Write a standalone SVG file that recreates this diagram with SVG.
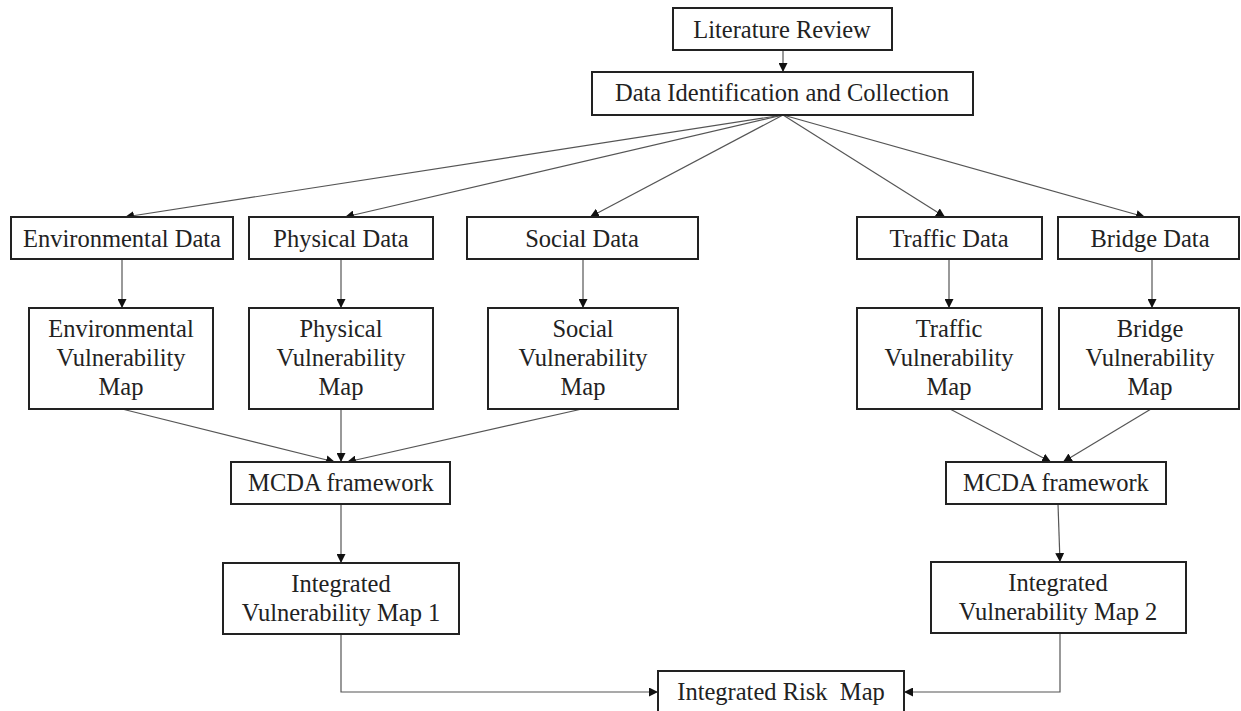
<svg xmlns="http://www.w3.org/2000/svg" width="1241" height="711" viewBox="0 0 1241 711">
<defs>
<marker id="arr" viewBox="0 0 10 10" refX="10" refY="5" markerWidth="9" markerHeight="9" markerUnits="userSpaceOnUse" orient="auto">
<path d="M0,0 L10,5 L0,10 z" fill="#111"/>
</marker>
<style>
.box{fill:#fff;stroke:#222;stroke-width:2}
.lbl{font-family:"Liberation Serif","Times New Roman",serif;font-size:24.5px;fill:#222;text-anchor:middle}
.con{fill:none;stroke:#555;stroke-width:1.2;marker-end:url(#arr)}
</style>
</defs>
<rect width="1241" height="711" fill="#fff"/>
<g id="connectors">
<line class="con" x1="783" y1="50" x2="783" y2="72"/>
<line class="con" x1="783" y1="115" x2="125" y2="217"/>
<line class="con" x1="783" y1="115" x2="345" y2="217"/>
<line class="con" x1="783" y1="115" x2="590" y2="217"/>
<line class="con" x1="783" y1="115" x2="945" y2="217"/>
<line class="con" x1="783" y1="115" x2="1145" y2="217"/>
<line class="con" x1="122" y1="259" x2="122" y2="308"/>
<line class="con" x1="341" y1="259" x2="341" y2="308"/>
<line class="con" x1="583" y1="259" x2="583" y2="308"/>
<line class="con" x1="949" y1="259" x2="949" y2="308"/>
<line class="con" x1="1152" y1="259" x2="1152" y2="308"/>
<line class="con" x1="122" y1="409" x2="335" y2="462"/>
<line class="con" x1="341" y1="409" x2="341" y2="462"/>
<line class="con" x1="582" y1="409" x2="347" y2="462"/>
<line class="con" x1="950" y1="409" x2="1051" y2="462"/>
<line class="con" x1="1151" y1="409" x2="1063" y2="462"/>
<line class="con" x1="341" y1="504" x2="341" y2="563"/>
<line class="con" x1="1058" y1="504" x2="1060" y2="562"/>
<polyline class="con" points="341,634 341,692 658,692"/>
<polyline class="con" points="1060,633 1060,692 904,692"/>
</g>
<g id="lit-review"><rect class="box" x="673" y="8" width="219" height="42"/><text class="lbl" x="782" y="38">Literature Review</text></g>
<g id="data-id"><rect class="box" x="592" y="72" width="381" height="43"/><text class="lbl" x="782" y="101">Data Identification and Collection</text></g>
<g id="env-data"><rect class="box" x="11" y="217" width="222" height="42"/><text class="lbl" x="122" y="247">Environmental Data</text></g>
<g id="phys-data"><rect class="box" x="249" y="217" width="184" height="42"/><text class="lbl" x="341" y="247">Physical Data</text></g>
<g id="soc-data"><rect class="box" x="467" y="217" width="231" height="42"/><text class="lbl" x="582" y="247">Social Data</text></g>
<g id="traf-data"><rect class="box" x="857" y="217" width="185" height="42"/><text class="lbl" x="949" y="247">Traffic Data</text></g>
<g id="bridge-data"><rect class="box" x="1058" y="217" width="181" height="42"/><text class="lbl" x="1150" y="247">Bridge Data</text></g>
<g id="env-vuln"><rect class="box" x="29" y="308" width="184" height="101"/><text class="lbl" x="121" y="337">Environmental</text><text class="lbl" x="121" y="366">Vulnerability</text><text class="lbl" x="121" y="395">Map</text></g>
<g id="phys-vuln"><rect class="box" x="249" y="308" width="184" height="101"/><text class="lbl" x="341" y="337">Physical</text><text class="lbl" x="341" y="366">Vulnerability</text><text class="lbl" x="341" y="395">Map</text></g>
<g id="soc-vuln"><rect class="box" x="488" y="308" width="190" height="101"/><text class="lbl" x="583" y="337">Social</text><text class="lbl" x="583" y="366">Vulnerability</text><text class="lbl" x="583" y="395">Map</text></g>
<g id="traf-vuln"><rect class="box" x="857" y="308" width="185" height="101"/><text class="lbl" x="949" y="337">Traffic</text><text class="lbl" x="949" y="366">Vulnerability</text><text class="lbl" x="949" y="395">Map</text></g>
<g id="bridge-vuln"><rect class="box" x="1059" y="308" width="180" height="101"/><text class="lbl" x="1150" y="337">Bridge</text><text class="lbl" x="1150" y="366">Vulnerability</text><text class="lbl" x="1150" y="395">Map</text></g>
<g id="mcda1"><rect class="box" x="231" y="462" width="219" height="42"/><text class="lbl" x="341" y="491">MCDA framework</text></g>
<g id="mcda2"><rect class="box" x="946" y="462" width="220" height="42"/><text class="lbl" x="1056" y="491">MCDA framework</text></g>
<g id="ivm1"><rect class="box" x="223" y="563" width="236" height="71"/><text class="lbl" x="341" y="592">Integrated</text><text class="lbl" x="341" y="621">Vulnerability Map 1</text></g>
<g id="ivm2"><rect class="box" x="931" y="562" width="255" height="71"/><text class="lbl" x="1058" y="591">Integrated</text><text class="lbl" x="1058" y="620">Vulnerability Map 2</text></g>
<g id="risk"><rect class="box" x="658" y="671" width="246" height="60"/><text class="lbl" x="781" y="700" xml:space="preserve">Integrated Risk  Map</text></g>
</svg>
